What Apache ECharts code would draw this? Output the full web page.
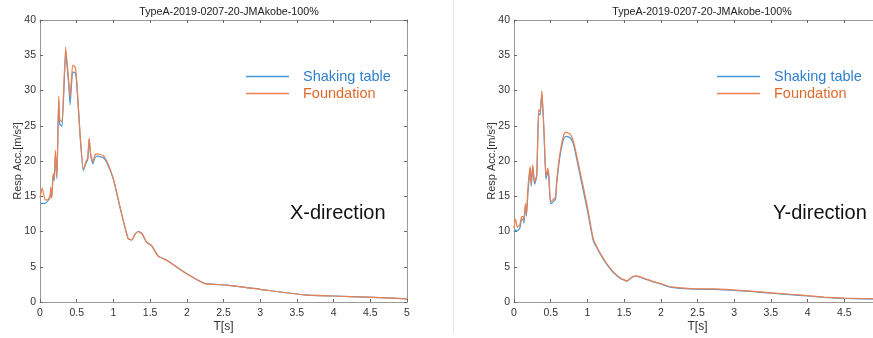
<!DOCTYPE html>
<html>
<head>
<meta charset="utf-8">
<script src="https://cdn.jsdelivr.net/npm/echarts@6/dist/echarts.min.js"></script>
<style>html,body{margin:0;padding:0;background:#fff;overflow:hidden;width:873px;height:338px;}#c{width:900px;height:338px;}</style>
</head>
<body>
<div id="c"></div>
<script>
// ---- Data ----
const chartTitle = 'TypeA-2019-0207-20-JMAkobe-100%';
const seriesNames = ['Shaking table', 'Foundation'];
const xTicks = ['0', '0.5', '1', '1.5', '2', '2.5', '3', '3.5', '4', '4.5', '5'];

// X-direction
const tX = [0, 0.03, 0.07, 0.11, 0.14, 0.145, 0.16, 0.18, 0.195, 0.21, 0.23, 0.255, 0.27, 0.30, 0.35, 0.39, 0.41, 0.445, 0.48, 0.5, 0.545, 0.59, 0.63, 0.65, 0.67, 0.69, 0.72, 0.75, 0.78, 0.82, 0.86, 0.91, 1.0, 1.09, 1.2, 1.25, 1.3, 1.34, 1.39, 1.45, 1.52, 1.61, 1.73, 2.0, 2.25, 2.55, 3.0, 3.6, 4.0, 4.45, 5.0];
const xTable = [13.9, 14.0, 14.0, 14.4, 15.0, 16.0, 14.9, 18.0, 17.2, 21.0, 17.5, 28.6, 25.2, 24.9, 35.3, 31.0, 28.0, 32.6, 32.5, 31.0, 23.8, 18.6, 19.8, 20.2, 23.1, 20.8, 19.6, 20.5, 20.7, 20.6, 20.5, 19.8, 17.4, 13.4, 9.0, 8.8, 9.7, 10.0, 9.7, 8.5, 8.0, 6.5, 5.9, 4.0, 2.6, 2.4, 1.8, 1.0, 0.85, 0.7, 0.45];
const xFoundation = [14.8, 16.2, 14.5, 14.5, 15.2, 16.3, 14.7, 18.3, 17.5, 21.5, 17.8, 29.2, 25.8, 25.6, 36.2, 31.5, 29.0, 33.6, 33.3, 31.5, 24.0, 18.8, 20.0, 20.4, 23.3, 21.0, 19.9, 20.9, 21.0, 20.9, 20.8, 20.0, 17.5, 13.5, 9.0, 8.8, 9.7, 10.0, 9.7, 8.5, 8.0, 6.5, 5.9, 4.0, 2.6, 2.4, 1.8, 1.0, 0.85, 0.7, 0.45];

// Y-direction
const tY = [0, 0.02, 0.045, 0.08, 0.105, 0.13, 0.135, 0.155, 0.17, 0.19, 0.22, 0.235, 0.255, 0.28, 0.31, 0.335, 0.355, 0.38, 0.41, 0.435, 0.46, 0.475, 0.5, 0.565, 0.58, 0.625, 0.68, 0.71, 0.765, 0.81, 0.9, 1.0, 1.08, 1.17, 1.26, 1.35, 1.45, 1.54, 1.6, 1.67, 1.76, 1.9, 2.0, 2.08, 2.17, 2.4, 2.54, 2.72, 3.0, 3.22, 3.5, 3.76, 4.0, 4.22, 4.5, 5.0];
const yTable = [10.0, 10.2, 10.1, 10.5, 11.8, 11.6, 11.2, 13.6, 12.2, 15.5, 19.0, 16.4, 19.2, 16.7, 17.8, 26.8, 26.5, 29.5, 23.6, 17.4, 18.5, 17.6, 13.9, 14.6, 16.6, 20.6, 23.3, 23.5, 23.3, 22.4, 18.0, 13.0, 8.7, 6.9, 5.4, 4.2, 3.35, 2.95, 3.45, 3.65, 3.35, 2.85, 2.55, 2.25, 2.05, 1.85, 1.8, 1.8, 1.65, 1.5, 1.25, 1.05, 0.85, 0.65, 0.5, 0.42];
const yFoundation = [10.5, 11.8, 10.6, 11.0, 12.1, 12.0, 11.5, 14.0, 12.5, 16.2, 19.2, 16.8, 19.5, 17.0, 18.0, 27.3, 27.0, 30.0, 24.0, 17.8, 19.0, 18.0, 14.2, 14.9, 17.0, 21.0, 23.8, 24.1, 23.8, 22.8, 18.5, 13.5, 9.0, 7.0, 5.5, 4.3, 3.4, 3.0, 3.5, 3.7, 3.4, 2.9, 2.6, 2.3, 2.1, 1.9, 1.85, 1.85, 1.7, 1.55, 1.3, 1.1, 0.9, 0.7, 0.55, 0.45];

// ---- Chart ----
const FONT = '"Liberation Sans", Arial, sans-serif';
const lineBlue = '#4598da', lineOrange = '#ee8050';
const textBlue = '#2f7fce', textOrange = '#dd6a2c';
const frame = '#9a9a9a';

const pairs = (t, v) => t.map((x, i) => [x, v[i]]);

const grids = [
  { left: 40, top: 20, width: 367, height: 288 },
  { left: 514, top: 20, width: 367, height: 288 }
];

const xAxes = [], yAxes = [];
grids.forEach((g, gi) => {
  xAxes.push({
    type: 'value', gridIndex: gi, min: 0, max: 5, interval: 0.5, position: 'bottom',
    name: 'T[s]', nameLocation: 'middle', nameGap: 19, nameMoveOverlap: false,
    nameTextStyle: { fontFamily: FONT, fontSize: 12, color: '#333' },
    axisLine: { show: true, onZero: false, lineStyle: { color: frame, width: 1 } },
    axisTick: { show: true, inside: true, length: 3, lineStyle: { color: '#666' } },
    axisLabel: { fontFamily: FONT, fontSize: 10.5, color: '#333', margin: 6,
      formatter: v => xTicks[Math.round(v * 2)] },
    splitLine: { show: false }
  });
  xAxes.push({
    type: 'value', gridIndex: gi, min: 0, max: 5, interval: 0.5, position: 'top',
    axisLine: { show: true, onZero: false, lineStyle: { color: frame, width: 1 } },
    axisTick: { show: true, inside: true, length: 3, lineStyle: { color: '#666' } },
    axisLabel: { show: false }, splitLine: { show: false }
  });
  yAxes.push({
    type: 'value', gridIndex: gi, min: 0, max: 40, interval: 5, position: 'left',
    name: 'Resp Acc.[m/s²]', nameLocation: 'middle', nameGap: 17, nameMoveOverlap: false,
    nameTextStyle: { fontFamily: FONT, fontSize: 11, color: '#333' },
    axisLine: { show: true, onZero: false, lineStyle: { color: frame, width: 1 } },
    axisTick: { show: true, inside: true, length: 3, lineStyle: { color: '#666' } },
    axisLabel: { fontFamily: FONT, fontSize: 10.5, color: '#333', margin: 4 },
    splitLine: { show: false }
  });
  yAxes.push({
    type: 'value', gridIndex: gi, min: 0, max: 40, interval: 5, position: 'right',
    axisLine: { show: true, onZero: false, lineStyle: { color: frame, width: 1 } },
    axisTick: { show: true, inside: true, length: 3, lineStyle: { color: '#666' } },
    axisLabel: { show: false }, splitLine: { show: false }
  });
});

function mk(name, data, gi, color) {
  return {
    name, type: 'line', xAxisIndex: gi * 2, yAxisIndex: gi * 2,
    data, showSymbol: false, symbol: 'none', smooth: 0.15,
    lineStyle: { color, width: 1.2 }, itemStyle: { color },
    animation: false, z: name === 'Foundation' ? 3 : 2
  };
}

const series = [
  mk(seriesNames[0], pairs(tX, xTable), 0, lineBlue),
  mk(seriesNames[1], pairs(tX, xFoundation), 0, lineOrange),
  mk(seriesNames[0], pairs(tY, yTable), 1, lineBlue),
  mk(seriesNames[1], pairs(tY, yFoundation), 1, lineOrange)
];

function legendAt(left) {
  return {
    left, top: 63, orient: 'vertical', itemGap: 0,
    itemWidth: 43, itemHeight: 1.5, icon: 'rect',
    selectedMode: false,
    itemStyle: { borderWidth: 0 },
    textStyle: { fontFamily: FONT, fontSize: 14.5, lineHeight: 17, padding: [0, 0, 0, 9] },
    data: [
      { name: seriesNames[0], textStyle: { color: textBlue } },
      { name: seriesNames[1], textStyle: { color: textOrange } }
    ]
  };
}

const option = {
  backgroundColor: '#fff',
  animation: false,
  title: [
    { text: chartTitle, left: 224, top: 2, textAlign: 'center',
      textStyle: { fontFamily: FONT, fontSize: 10.7, fontWeight: 'normal', color: '#222' } },
    { text: chartTitle, left: 697, top: 2, textAlign: 'center',
      textStyle: { fontFamily: FONT, fontSize: 10.7, fontWeight: 'normal', color: '#222' } }
  ],
  legend: [legendAt(241), legendAt(712)],
  grid: grids,
  xAxis: xAxes,
  yAxis: yAxes,
  series,
  graphic: [
    { type: 'line', shape: { x1: 453.5, y1: 0, x2: 453.5, y2: 333 }, style: { stroke: '#e6e6e6', lineWidth: 1 }, silent: true },
    { type: 'text', left: 290, top: 203, style: { text: 'X-direction', font: '20px "Liberation Sans", Arial, sans-serif', fill: '#111' } },
    { type: 'text', left: 773, top: 203, style: { text: 'Y-direction', font: '20px "Liberation Sans", Arial, sans-serif', fill: '#111' } }
  ]
};

const chart = echarts.init(document.getElementById('c'), null, { renderer: 'canvas' });
chart.setOption(option);
</script>
</body>
</html>
